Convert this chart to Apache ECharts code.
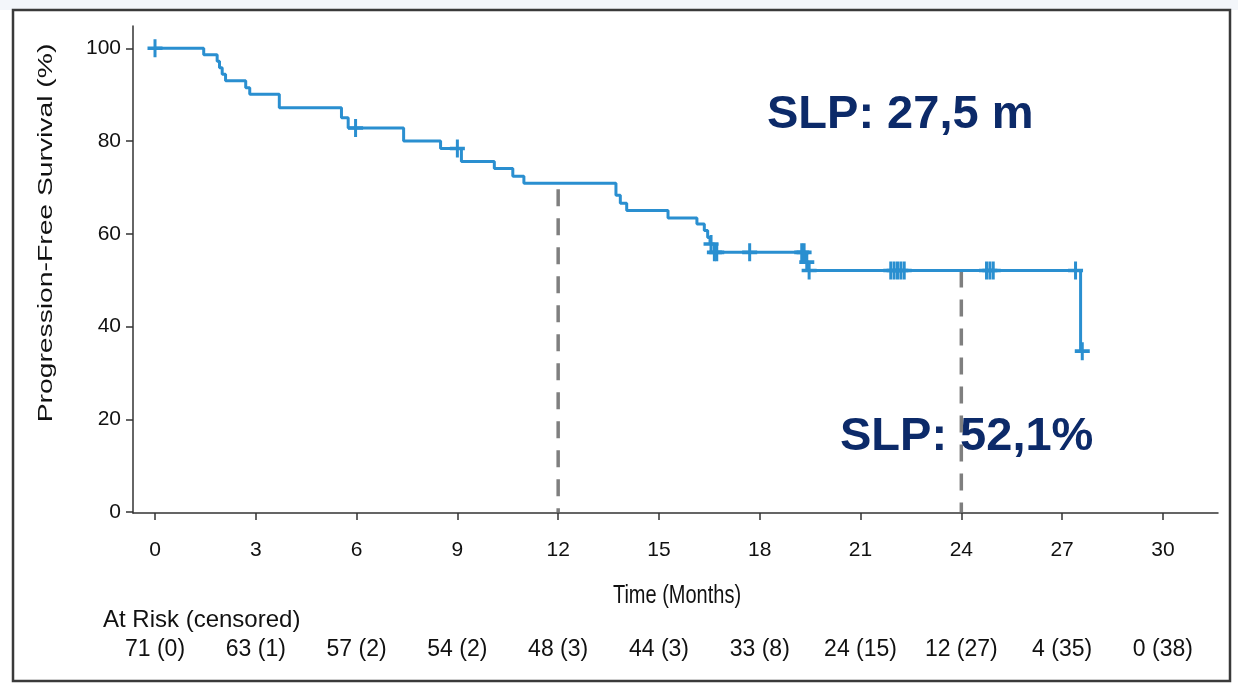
<!DOCTYPE html>
<html>
<head>
<meta charset="utf-8">
<script src="https://cdn.jsdelivr.net/npm/echarts@6/dist/echarts.min.js"></script>
<style>
  html, body { margin: 0; padding: 0; background: #fff; }
  #chart { width: 1238px; height: 684px; }
</style>
</head>
<body>
<div id="chart"></div>
<script>
// Kaplan-Meier curve: time of each step (months) and survival after it (%)
const pfsTime = [0, 1.45, 1.85, 1.92, 2.0, 2.1, 2.7, 2.82, 3.7, 5.55, 5.75, 7.4, 8.5, 9.12, 10.1, 10.65, 10.98,
  13.72, 13.85, 14.04, 15.27, 16.13, 16.35, 16.45, 16.52, 16.65, 19.38, 19.45, 27.55];
const pfsValue = [100, 98.6, 97.2, 95.8, 94.4, 93.0, 91.5, 90.1, 87.2, 85.0, 82.8, 80.0, 78.4, 75.6, 74.1, 72.4, 70.9,
  68.3, 66.6, 65.0, 63.4, 62.1, 60.7, 59.2, 57.8, 56.0, 53.9, 52.1, 34.7];

// censored patients (+ marks)
const censorTime = [0, 5.97, 9.0, 16.55, 16.65, 16.72, 17.7, 19.25, 19.32, 19.4, 19.47,
  21.9, 22.0, 22.1, 22.2, 22.3, 24.75, 24.85, 24.95, 27.4, 27.6];
const censorValue = [100, 82.8, 78.4, 57.8, 56.0, 56.0, 56.0, 56.0, 56.0, 53.9, 52.1,
  52.1, 52.1, 52.1, 52.1, 52.1, 52.1, 52.1, 52.1, 52.1, 34.7];

// dashed reference lines (12 and 24 months)
const refTime = [12, 24];
const refTop = [69.6, 52.1];

// axis ticks
const xTicks = [0, 3, 6, 9, 12, 15, 18, 21, 24, 27, 30];
const yTicks = [0, 20, 40, 60, 80, 100];

// number at risk (censored)
const atRisk = [71, 63, 57, 54, 48, 44, 33, 24, 12, 4, 0];
const atRiskCensored = [0, 1, 2, 2, 3, 3, 8, 15, 27, 35, 38];

const FONT = 'Liberation Sans';
const NAVY = '#0c2a69';
const BLUE = '#2a8fd0';
const plus = 'path://M6,0h3v6h6v3h-6v6h-3v-6h-6v-3h6z';

const chart = echarts.init(document.getElementById('chart'));

const refSeries = refTime.map((t, i) => ({
  type: 'line',
  data: [[t, refTop[i]], [t, 0]],
  symbol: 'none',
  silent: true,
  lineStyle: { color: '#7f7f7f', width: 3.5, type: [17, 12] },
  z: 1
}));

chart.setOption({
  animation: false,
  textStyle: { fontFamily: FONT },
  grid: { left: 133, right: 20, top: 26, bottom: 171 },
  xAxis: [
    {
      type: 'value',
      min: -0.655,
      max: 31.64,
      splitLine: { show: false },
      axisLine: { onZero: false, lineStyle: { color: '#333', width: 1.5 } },
      axisTick: { customValues: xTicks, length: 7, lineStyle: { color: '#333', width: 1.5 } },
      axisLabel: { customValues: xTicks, margin: 27, fontSize: 21, color: '#111', fontFamily: FONT }
    },
    {
      type: 'value',
      position: 'bottom',
      offset: 125,
      min: -0.655,
      max: 31.64,
      splitLine: { show: false },
      axisLine: { show: false },
      axisTick: { show: false },
      axisLabel: {
        customValues: xTicks,
        margin: 0,
        fontSize: 23,
        color: '#111',
        fontFamily: FONT,
        formatter: v => {
          const i = xTicks.indexOf(Math.round(v));
          return i < 0 ? '' : atRisk[i] + ' (' + atRiskCensored[i] + ')';
        }
      }
    }
  ],
  yAxis: {
    type: 'value',
    min: -0.2,
    max: 104.8,
    splitLine: { show: false },
    axisLine: { show: true, onZero: false, lineStyle: { color: '#333', width: 1.5 } },
    axisTick: { show: true, customValues: yTicks, length: 7, lineStyle: { color: '#333', width: 1.5 } },
    axisLabel: { customValues: yTicks, margin: 12, fontSize: 21, color: '#111', fontFamily: FONT }
  },
  series: [
    ...refSeries,
    {
      type: 'line',
      step: 'end',
      data: pfsTime.map((t, i) => [t, pfsValue[i]]),
      symbol: 'none',
      lineStyle: { color: BLUE, width: 3 },
      z: 3
    },
    {
      type: 'scatter',
      data: censorTime.map((t, i) => [t, censorValue[i]]),
      symbol: plus,
      symbolSize: [15, 18],
      itemStyle: { color: BLUE, opacity: 1 },
      z: 4
    }
  ],
  graphic: [
    {
      type: 'rect',
      z: -100,
      shape: { x: 0, y: 0, width: 1238, height: 10 },
      style: { fill: '#f3f6fa' }
    },
    {
      type: 'rect',
      z: -99,
      shape: { x: 13, y: 10, width: 1217, height: 671 },
      style: { fill: '#fff', stroke: '#3a3a3a', lineWidth: 2.5 }
    },
    {
      type: 'text',
      x: 46,
      y: 233,
      rotation: Math.PI / 2,
      scaleX: 1.45,
      scaleY: 1.05,
      style: {
        text: 'Progression-Free Survival (%)',
        font: '19.5px "' + FONT + '"',
        fill: '#111',
        align: 'center',
        verticalAlign: 'middle'
      }
    },
    {
      type: 'text',
      x: 677,
      y: 596,
      scaleX: 0.8,
      style: {
        text: 'Time (Months)',
        font: '25px "' + FONT + '"',
        fill: '#111',
        align: 'center',
        verticalAlign: 'middle'
      }
    },
    {
      type: 'text',
      x: 103,
      y: 620,
      style: {
        text: 'At Risk (censored)',
        font: '24px "' + FONT + '"',
        fill: '#111',
        align: 'left',
        verticalAlign: 'middle'
      }
    },
    {
      type: 'text',
      x: 767,
      y: 115,
      style: {
        text: 'SLP: 27,5 m',
        font: 'bold 47px "' + FONT + '"',
        fill: NAVY,
        align: 'left',
        verticalAlign: 'middle'
      }
    },
    {
      type: 'text',
      x: 840,
      y: 437,
      style: {
        text: 'SLP: 52,1%',
        font: 'bold 47px "' + FONT + '"',
        fill: NAVY,
        align: 'left',
        verticalAlign: 'middle'
      }
    }
  ]
});
</script>
</body>
</html>
